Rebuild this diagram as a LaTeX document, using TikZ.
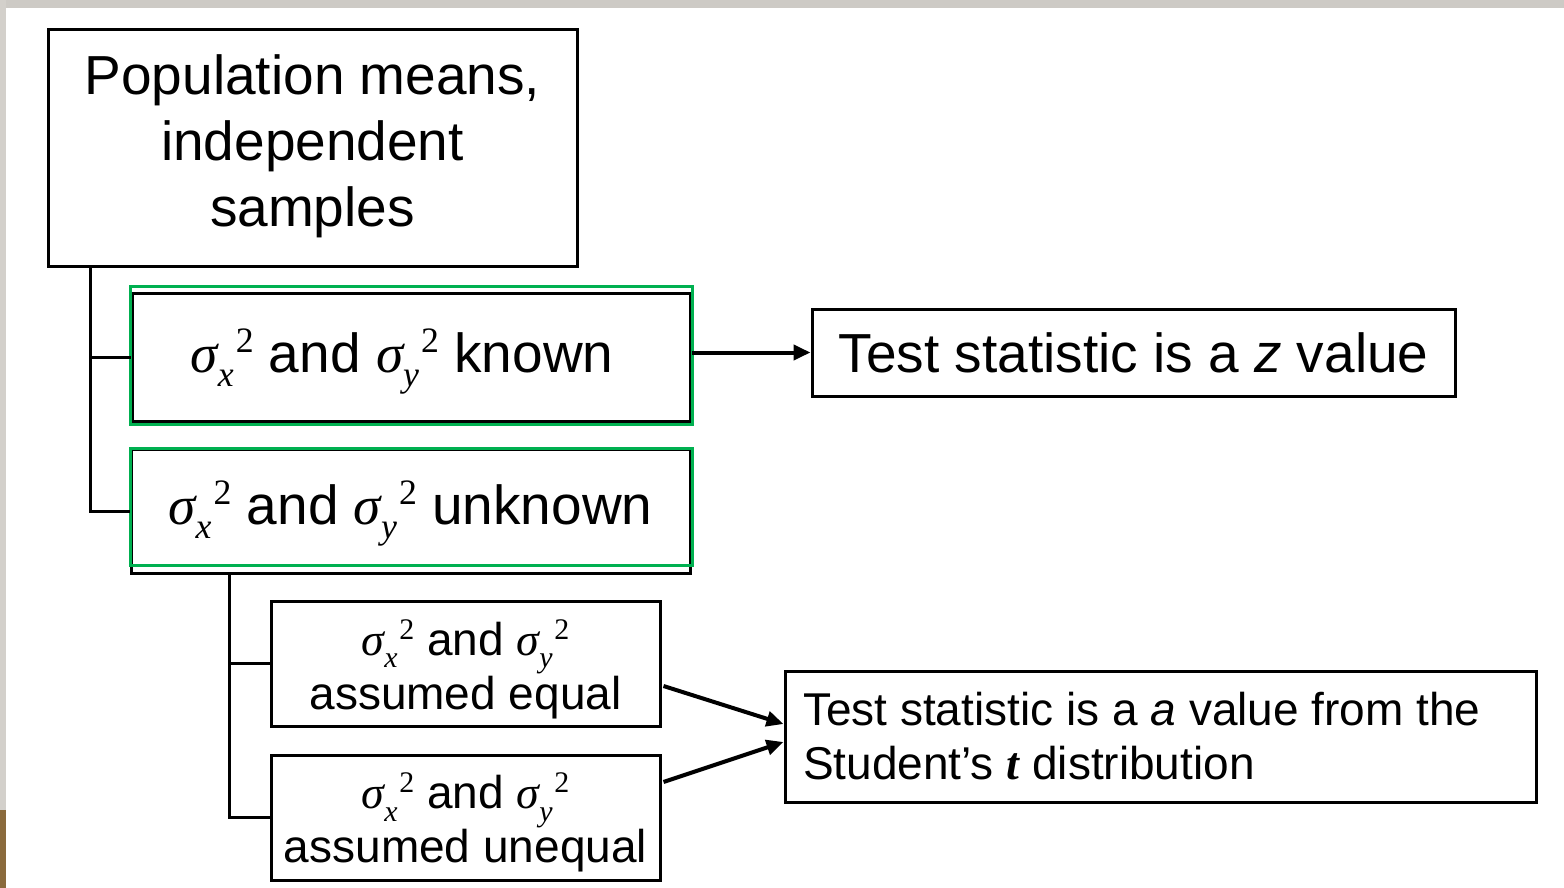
\documentclass[tikz,border=0pt]{standalone}
\usepackage{fontspec}
\setmainfont{Liberation Sans}
\newfontfamily\tnr{Liberation Serif}
\usetikzlibrary{arrows.meta,calc}
\newcommand{\sg}[1]{{\tnr\itshape σ}\raisebox{-0.27em}{\tnr\itshape\scalebox{0.65}{#1}}\kern0.04em\raisebox{0.35em}{\tnr\scalebox{0.65}{2}}}
\definecolor{pptgreen}{HTML}{00B050}
\definecolor{framegray}{HTML}{CDCAC5}
\definecolor{sidegray}{HTML}{D3D0CB}
\definecolor{woodbrown}{HTML}{8A6A3C}
\tikzset{
  box/.style={draw=black, line width=3pt, inner sep=0pt, align=center},
  hilite/.style={draw=pptgreen, line width=3pt, inner sep=0pt},
  big/.style={font=\fontsize{55}{66}\selectfont},
  small/.style={font=\fontsize{46}{54}\selectfont},
  conn/.style={line width=3pt},
  arr/.style={line width=4pt, -{Triangle[length=17pt,width=15pt]}},
}
\begin{document}
\begin{tikzpicture}[x=1pt,y=-1pt]
\fill[white] (0,0) rectangle (1564,888);
\useasboundingbox (0,0) rectangle (1564,888);
\fill[framegray] (0,0) rectangle (1564,8);
\fill[sidegray] (0,0) rectangle (6,810);
\fill[woodbrown] (0,810) rectangle (6,888);

\node[box, big, minimum width=529pt, minimum height=236pt] (pop) at (312.5,148)
  {Population means,\\independent\\samples\rule[-15pt]{0pt}{0pt}};

\node[box, big, minimum width=558pt, minimum height=128pt, text height=53pt, text depth=23pt] (known) at (411,357)
  {\sg{x} and \sg{y} known\hspace*{18pt}};
\node[hilite, minimum width=562pt, minimum height=138pt] (gknown) at (411,355) {};

\node[box, big, minimum width=559pt, minimum height=124pt, text height=49pt, text depth=23pt] (unknown) at (410.5,511)
  {\sg{x} and \sg{y} unknown};
\node[hilite, minimum width=562pt, minimum height=117pt] (gunknown) at (411,506.5) {};

\node[box, big, minimum width=643pt, minimum height=87pt] (zbox) at (1133.5,352.5)
  {Test statistic is a \textit{z} value};

\node[box, small, minimum width=389pt, minimum height=125pt] (equal) at (465.5,663.5)
  {\rule{0pt}{47pt}\sg{x} and \sg{y}\\assumed equal};
\node[box, small, minimum width=389pt, minimum height=125pt] (unequal) at (465.5,817.5)
  {\rule{0pt}{46pt}\sg{x} and \sg{y}\\assumed unequal};

\node[box, small, align=flush left, text width=715pt, inner xsep=18pt, minimum height=131pt] (tbox) at (1160.5,736.5)
  {Test statistic is a \textit{a} value from the\\Student’s {\tnr\bfseries\itshape t} distribution};

\coordinate (t1) at (90,266);
\draw[conn] (t1) |- (unknown.west);
\draw[conn] (t1 |- known.west) -- (known.west);

\coordinate (t2) at (229,573);
\draw[conn] (t2) |- (unequal.west);
\draw[conn] (t2 |- equal.west) -- (equal.west);

\draw[arr] (known.east |- zbox.west) -- (zbox.west);
\draw[arr] ($(equal.east)+(2,22.5)$) -- ($(tbox.west)+(0,-12.5)$);
\draw[arr] ($(unequal.east)+(2,-35.5)$) -- ($(tbox.west)+(0,5.5)$);
\end{tikzpicture}
\end{document}
